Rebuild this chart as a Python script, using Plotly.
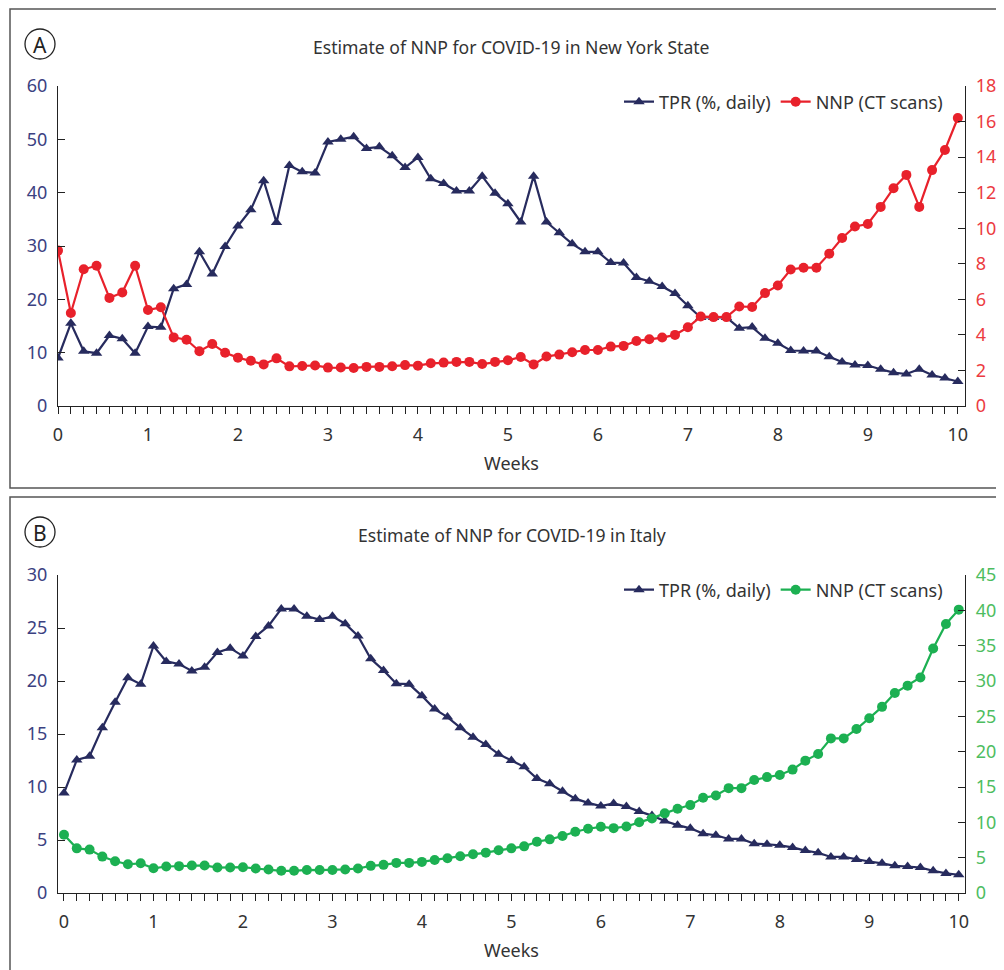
import plotly.graph_objects as go

# ---- data (daily values over 10 weeks) ----
days = list(range(71))

tpr_ny = [9.0, 15.5, 10.25, 9.9, 13.2, 12.6, 9.9, 14.9, 14.75, 22.0, 22.8, 28.9, 24.75, 29.9,
          33.75, 36.8, 42.25, 34.4, 45.1, 43.9, 43.7, 49.5, 50.0, 50.5, 48.3, 48.6, 46.9, 44.7,
          46.6, 42.6, 41.7, 40.3, 40.3, 43.1, 39.9, 37.9, 34.5, 43.1, 34.5, 32.5, 30.4, 28.9,
          28.9, 26.9, 26.8, 24.1, 23.4, 22.4, 21.1, 18.8, 16.6, 16.6, 16.6, 14.6, 14.8, 12.7,
          11.75, 10.4, 10.3, 10.3, 9.25, 8.25, 7.7, 7.6, 6.9, 6.25, 6.0, 6.9, 5.8, 5.25, 4.6]

nnp_ny = [8.74, 5.23, 7.69, 7.89, 6.08, 6.38, 7.89, 5.4, 5.55, 3.86, 3.73, 3.08, 3.49, 3.0,
          2.72, 2.55, 2.34, 2.68, 2.23, 2.25, 2.28, 2.16, 2.17, 2.14, 2.2, 2.2, 2.24, 2.3,
          2.27, 2.4, 2.44, 2.48, 2.48, 2.36, 2.48, 2.57, 2.76, 2.34, 2.78, 2.89, 3.02, 3.15,
          3.15, 3.34, 3.38, 3.66, 3.75, 3.85, 4.0, 4.43, 5.03, 5.0, 5.0, 5.6, 5.57, 6.35,
          6.78, 7.68, 7.78, 7.78, 8.57, 9.45, 10.1, 10.24, 11.2, 12.25, 13.0, 11.2, 13.27, 14.4, 16.2]

tpr_it = [9.43, 12.55, 12.9, 15.6, 18.0, 20.3, 19.7, 23.3, 21.85, 21.6, 20.95, 21.3, 22.7, 23.1,
          22.35, 24.2, 25.2, 26.8, 26.8, 26.1, 25.8, 26.1, 25.4, 24.25, 22.1, 21.0, 19.75, 19.7,
          18.6, 17.35, 16.6, 15.6, 14.7, 14.0, 13.1, 12.5, 11.9, 10.8, 10.3, 9.6, 8.9, 8.5,
          8.2, 8.45, 8.15, 7.7, 7.3, 6.8, 6.4, 6.1, 5.6, 5.45, 5.1, 5.1, 4.65, 4.6,
          4.5, 4.3, 4.0, 3.8, 3.4, 3.4, 3.15, 2.97, 2.8, 2.56, 2.5, 2.4, 2.1, 1.85, 1.72]

nnp_it = [8.24, 6.32, 6.14, 5.15, 4.5, 4.07, 4.2, 3.5, 3.75, 3.8, 3.9, 3.9, 3.6, 3.6,
          3.65, 3.47, 3.33, 3.14, 3.14, 3.26, 3.25, 3.25, 3.33, 3.47, 3.84, 3.98, 4.26, 4.26,
          4.4, 4.68, 4.92, 5.2, 5.48, 5.71, 6.04, 6.32, 6.6, 7.26, 7.59, 8.06, 8.67, 9.09,
          9.37, 9.18, 9.41, 10.0, 10.56, 11.27, 11.92, 12.44, 13.47, 13.8, 14.84, 14.84, 16.0, 16.4,
          16.7, 17.46, 18.73, 19.67, 21.88, 21.88, 23.2, 24.74, 26.34, 28.3, 29.34, 30.5, 34.6, 38.07, 40.1]

weeks = [d / 7 for d in days]
week_ticks = list(range(11))

title_a = "Estimate of NNP for COVID-19 in New York State"
title_b = "Estimate of NNP for COVID-19 in Italy"

NAVY = "#272b5e"
NAVY_LBL = "#3b4181"
RED = "#e8212b"
RED_LBL = "#ec3b41"
GREEN = "#1cb052"
GREEN_LBL = "#4dbd5f"
TXT = "#333333"
FONT = "Noto Sans"
FS = 18

# page has an 8px body margin; the figure fills the rest of the 1004x970 window
OFF = 8
W, H = 1004 - OFF, 970 - OFF
def px(x):
    return (x - OFF) / W
def py(y):
    return (H - (y - OFF)) / H

fig = go.Figure()

# Panel A
fig.add_trace(go.Scatter(x=weeks, y=tpr_ny, name="TPR (%, daily)", mode="lines+markers",
                         line=dict(color=NAVY, width=2.2), marker=dict(symbol="triangle-up", size=10, color=NAVY),
                         xaxis="x", yaxis="y", legend="legend"))
fig.add_trace(go.Scatter(x=weeks, y=nnp_ny, name="NNP (CT scans)", mode="lines+markers",
                         line=dict(color=RED, width=2.2), marker=dict(symbol="circle", size=10, color=RED),
                         xaxis="x", yaxis="y2", legend="legend"))
# Panel B
fig.add_trace(go.Scatter(x=weeks, y=tpr_it, name="TPR (%, daily)", mode="lines+markers",
                         line=dict(color=NAVY, width=2.2), marker=dict(symbol="triangle-up", size=10, color=NAVY),
                         xaxis="x2", yaxis="y3", legend="legend2"))
fig.add_trace(go.Scatter(x=weeks, y=nnp_it, name="NNP (CT scans)", mode="lines+markers",
                         line=dict(color=GREEN, width=2.2), marker=dict(symbol="circle", size=10, color=GREEN),
                         xaxis="x2", yaxis="y4", legend="legend2"))

xcommon = dict(showline=True, linecolor="#222", linewidth=1.3, ticks="outside", ticklen=7,
               tickcolor="#222", tickwidth=1.2, tickvals=week_ticks, showgrid=False, zeroline=False,
               automargin=False, ticklabelstandoff=5,
               tickfont=dict(size=FS, color=TXT, family=FONT),
               minor=dict(dtick=1 / 7, tick0=0, ticks="outside", ticklen=7, tickcolor="#222", tickwidth=1.2, showgrid=False),
               title=dict(text="Weeks", font=dict(size=FS, color=TXT, family=FONT), standoff=12))
ycommon = dict(showline=True, linecolor="#222", linewidth=1.3, ticks="inside", ticklen=7,
               tickcolor="#222", tickwidth=1.2, showgrid=False, zeroline=False, automargin=False)

dom_x = [px(58), px(965)]
fig.update_layout(
    width=W, height=H, margin=dict(l=0, r=0, t=0, b=0, autoexpand=False),
    paper_bgcolor="white", plot_bgcolor="white",
    font=dict(family=FONT, color=TXT),
    xaxis=dict(domain=dom_x, range=[0, 10.08], anchor="y", **xcommon),
    yaxis=dict(domain=[py(406), py(86)], range=[0, 60], dtick=10, anchor="x", ticklabelstandoff=6,
               tickfont=dict(size=FS, color=NAVY_LBL, family=FONT), **ycommon),
    yaxis2=dict(range=[0, 18], dtick=2, overlaying="y", side="right", anchor="x", ticklabelstandoff=6,
                tickfont=dict(size=FS, color=RED_LBL, family=FONT), **ycommon),
    xaxis2=dict(domain=dom_x, range=[-0.067, 10.07], anchor="y3", **xcommon),
    yaxis3=dict(domain=[py(893), py(575)], range=[0, 30], dtick=5, anchor="x2", ticklabelstandoff=6,
                tickfont=dict(size=FS, color=NAVY_LBL, family=FONT), **ycommon),
    yaxis4=dict(range=[0, 45], dtick=5, overlaying="y3", side="right", anchor="x2", ticklabelstandoff=6,
                tickfont=dict(size=FS, color=GREEN_LBL, family=FONT), **ycommon),
    legend=dict(orientation="h", x=px(948), xanchor="right", y=py(102), yanchor="middle",
                font=dict(size=FS, color=TXT, family=FONT), bgcolor="rgba(0,0,0,0)",
                itemwidth=30, tracegroupgap=0),
    legend2=dict(orientation="h", x=px(948), xanchor="right", y=py(590), yanchor="middle",
                 font=dict(size=FS, color=TXT, family=FONT), bgcolor="rgba(0,0,0,0)",
                 itemwidth=30, tracegroupgap=0),
    showlegend=True,
)

# panel borders
for y0, y1 in [(9, 488), (497, 985)]:
    fig.add_shape(type="rect", xref="paper", yref="paper", x0=px(10), x1=px(1015),
                  y0=py(y1), y1=py(y0), line=dict(color="#555", width=1.5), fillcolor="rgba(0,0,0,0)", layer="below")

# circled letters
for lbl, cy in [("A", 44), ("B", 532)]:
    fig.add_shape(type="circle", xref="paper", yref="paper", x0=px(25), x1=px(55),
                  y0=py(cy + 15), y1=py(cy - 15), line=dict(color="#222", width=1.3))
    fig.add_annotation(text=lbl, xref="paper", yref="paper", x=px(40), y=py(cy + 1), showarrow=False,
                       font=dict(size=21, color="#222", family=FONT), xanchor="center", yanchor="middle")

# titles
for t, ty in [(title_a, 47), (title_b, 535)]:
    fig.add_annotation(text=t, xref="paper", yref="paper", x=px(512), y=py(ty), showarrow=False,
                       font=dict(size=17.6, color=TXT, family=FONT), xanchor="center", yanchor="middle")

fig.write_html("out.html")
